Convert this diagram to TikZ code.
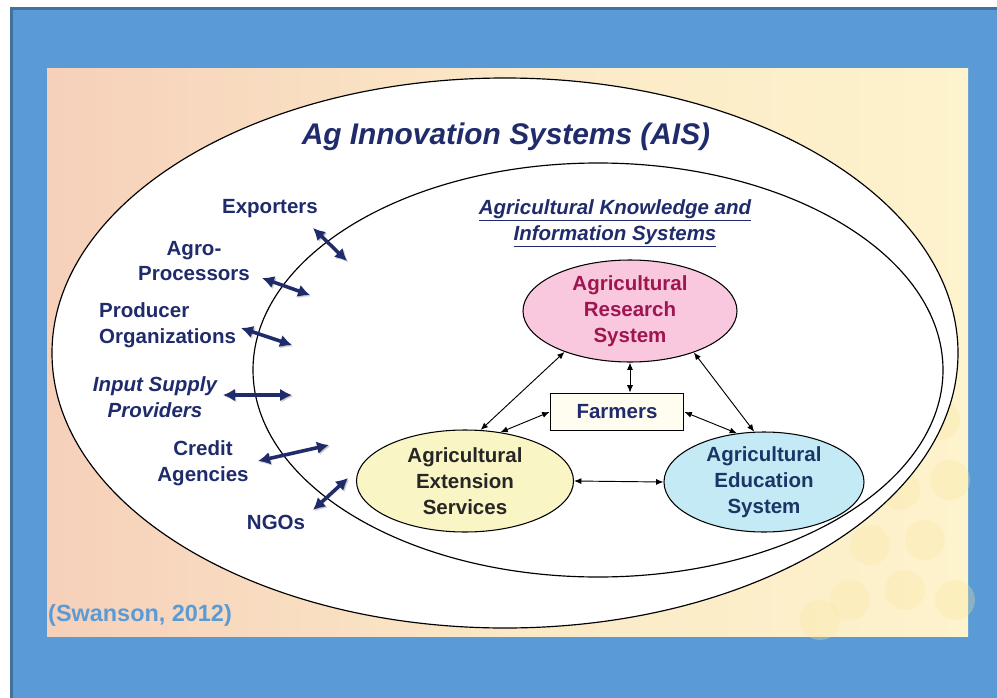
\documentclass[tikz,border=0pt]{standalone}
\usepackage{fontspec}
\setmainfont{Liberation Sans}
\usetikzlibrary{arrows.meta,positioning,shapes.geometric}
\definecolor{frame}{HTML}{5B9BD5}
\definecolor{frameedge}{HTML}{41719C}
\definecolor{navy}{HTML}{1F2B6B}
\definecolor{research}{HTML}{9E1550}
\definecolor{researchfill}{HTML}{F9C8DF}
\definecolor{extfill}{HTML}{FAF5C4}
\definecolor{edufill}{HTML}{C4EBF5}
\definecolor{edutext}{HTML}{1B3566}
\definecolor{farmfill}{HTML}{FFFDF0}
\definecolor{peach}{HTML}{F6D0BA}
\definecolor{cream}{HTML}{FDF3CC}
\definecolor{dots}{HTML}{FBE7A0}

\newcommand{\labfont}{\bfseries\fontsize{17.5}{22}\selectfont}

\begin{document}
\begin{tikzpicture}[x=0.03cm,y=-0.03cm,
  lab/.style={font=\labfont,text=navy,align=center,inner sep=0pt},
  sys/.style={ellipse,draw,line width=0.9pt,align=center,font=\labfont,inner sep=0pt},
  link/.style={{Latex[length=2.2mm,width=1.8mm]}-{Latex[length=2.2mm,width=1.8mm]},line width=0.8pt},
  bigarrow/.style={{Latex[length=3.6mm,width=3.8mm]}-{Latex[length=3.6mm,width=3.8mm]},line width=3pt,draw=navy,
    preaction={draw=black,opacity=.18,transform canvas={shift={(1.2pt,-1.2pt)}}}}]
  \useasboundingbox (0,0) rectangle (997,698);
  \fill[white] (0,0) rectangle (997,698);
  \fill[frame] (10,7) rectangle (997,698);
  \draw[frameedge,line width=2.5pt] (11.5,698) -- (11.5,8.5) -- (997,8.5);

  % backdrop panel
  \shade[left color=peach,right color=cream,middle color=cream!70!peach] (47,68) rectangle (968,636);
  \foreach \cx/\cy in {850/600,905/590,955/600,870/545,925/540,900/490,950/480,820/620,940/420}
    \fill[dots,opacity=.3] (\cx,\cy) circle [radius=20];

  % the two systems
  \draw[fill=white,line width=1pt] (505,353) ellipse [x radius=453,y radius=275];
  \draw[fill=white,line width=1pt] (598,370) ellipse [x radius=345,y radius=207];

  \node[lab,font=\bfseries\itshape\fontsize{25.5}{30}\selectfont] (ais) at (506,137) {Ag Innovation Systems (AIS)};
  \node[lab,font=\labfont\itshape] (akis) at (615,223) {\underline{Agricultural Knowledge and}\\\underline{Information Systems}};

  % core of the AKIS
  \node[sys,fill=researchfill,text=research,minimum width=6.42cm,minimum height=3.06cm] (research) at (630,311) {Agricultural\\Research\\System};
  \node[draw,line width=1.6pt,fill=farmfill,text=navy,font=\labfont,minimum width=3.99cm,minimum height=1.11cm] (farmers) at (617,412) {Farmers};
  \node[sys,fill=extfill,text=black!85,minimum width=6.51cm,minimum height=3.06cm] (extension) at (465,481) {Agricultural\\Extension\\Services};
  \node[sys,fill=edufill,text=edutext,minimum width=6.0cm,minimum height=3.0cm] (education) at (764,482) {Agricultural\\Education\\System};

  \draw[link] (research.212) -- (extension.73);
  \draw[link] (research.south) -- (research.south |- farmers.north);
  \draw[link] (research.327) -- (education.101);
  \draw[link] (farmers.west) -- (extension.54);
  \draw[link] (farmers.east) -- (education.119);
  \draw[link] (extension.east) -- (education.west);

  % outside actors
  \node[lab] (exporters) at (270,209) {Exporters};
  \node[lab] (agro) at (194,261) {Agro-\\Processors};
  \node[lab,align=left,anchor=west] (producer) at (99,325) {Producer\\Organizations};
  \node[lab,font=\labfont\itshape] (input) at (155,397) {Input Supply\\Providers};
  \node[lab] (credit) at (203,463) {Credit\\Agencies};
  \node[lab] (ngos) at (276,522) {NGOs};
  \node[lab,anchor=west,text=frame,font=\bfseries\fontsize{20}{24}\selectfont] (source) at (48,615) {(Swanson, 2012)};

  \foreach \n/\ax/\ay/\bx/\by in {exp/313/228/347/261, agro/262/278/310/295, prod/241/328/292/345,
      inp/223/395/292/395, cred/258/461/329/445, ngo/313/510/348/478}{
    \coordinate (\n-a) at (\ax,\ay);
    \coordinate (\n-b) at (\bx,\by);
    \draw[bigarrow] (\n-a) -- (\n-b);
  }
\end{tikzpicture}
\end{document}
